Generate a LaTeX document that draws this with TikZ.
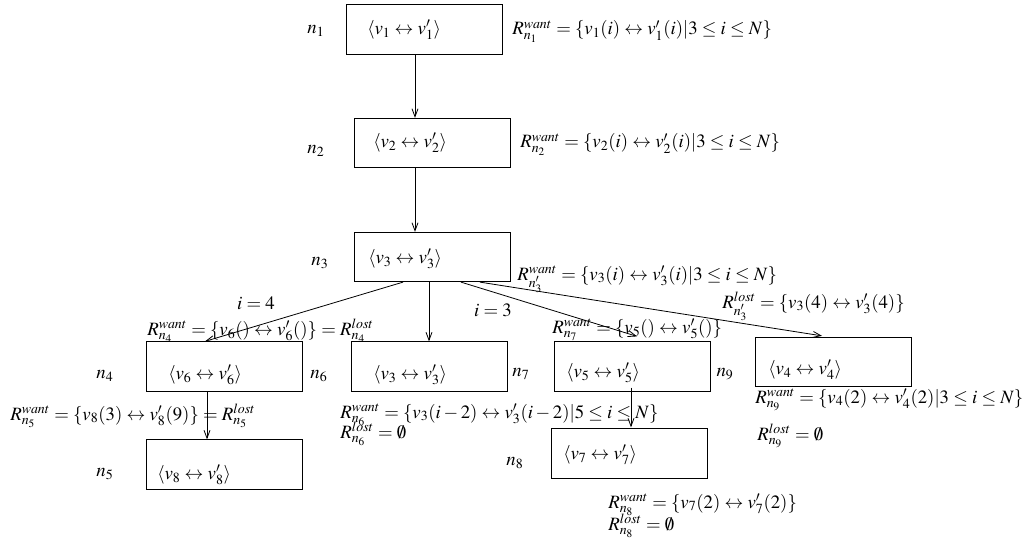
\documentclass[tikz,border=0pt]{standalone}
\usepackage{mathptmx}
\usetikzlibrary{arrows.meta,calc}
\tikzset{
  box/.style={draw, line width=0.7pt, rectangle, minimum width=117pt, minimum height=37pt, inner sep=0pt},
  inner/.style={anchor=west, inner sep=0pt},
  lbl/.style={inner sep=0pt},
  rel/.style={anchor=base west, inner sep=0pt},
  arr/.style={line width=0.6pt, -{Straight Barb[length=6pt,width=4.5pt,line width=0.6pt]}}
}
\begin{document}
\begin{tikzpicture}[x=0.75pt,y=-0.75pt,font=\fontsize{14.1}{17}\selectfont]
\useasboundingbox (0,0) rectangle (1023,538);
% boxes
\node[box] (b1) at (424.5,29.5) {};
\node[box] (b2) at (432,143) {};
\node[box] (b3) at (432,257) {};
\node[box] (b4) at (224,366.5) {};
\node[box] (b5) at (224,464.5) {};
\node[box] (b6) at (429,366.5) {};
\node[box] (b7) at (632.5,366.5) {};
\node[box] (b8) at (629,453.5) {};
\node[box] (b9) at (833,362) {};
% inner texts
\node[inner] (t1) at (367,30) {$\langle v_1 \leftrightarrow v'_1\rangle$};
\node[inner] (t2) at (373,143) {$\langle v_2 \leftrightarrow v'_2\rangle$};
\node[inner] (t3) at (368,259) {$\langle v_3 \leftrightarrow v'_3\rangle$};
\node[inner] (t4) at (168,375) {$\langle v_6 \leftrightarrow v'_6\rangle$};
\node[inner] (t5) at (157,475) {$\langle v_8 \leftrightarrow v'_8\rangle$};
\node[inner] (t6) at (373,375) {$\langle v_3 \leftrightarrow v'_3\rangle$};
\node[inner] (t7) at (566,373) {$\langle v_5 \leftrightarrow v'_5\rangle$};
\node[inner] (t8) at (563,455) {$\langle v_7 \leftrightarrow v'_7\rangle$};
\node[inner] (t9) at (768,370) {$\langle v_4 \leftrightarrow v'_4\rangle$};
% node names
\node[lbl] (l1) at (316,31) {$n_1$};
\node[lbl] (l2) at (316,151) {$n_2$};
\node[lbl] (l3) at (320,263) {$n_3$};
\node[lbl] (l4) at (105,376) {$n_4$};
\node[lbl] (l5) at (105,474) {$n_5$};
\node[lbl] (l6) at (319,376) {$n_6$};
\node[lbl] (l7) at (521,374) {$n_7$};
\node[lbl] (l8) at (515,463) {$n_8$};
\node[lbl] (l9) at (725,374) {$n_9$};
% connectors
\draw[arr] ($(b1.south)+(-9.5,0)$) -- ($(b2.north)+(-17,0)$);
\draw[arr] ($(b2.south)+(-17,0)$) -- ($(b3.north)+(-17,0)$);
\draw[arr] ($(b3.south)+(-29,0)$) -- ($(b4.north)+(-19,0)$);
\draw[arr] (b3.south -| b6.north) -- (b6.north);
\draw[arr] ($(b3.south)+(29,0)$) -- ($(b7.north)+(4.5,-5)$);
\draw[arr] ($(b3.south)+(48,0)$) -- ($(b9.north)+(-11,-1)$);
\draw[arr] ($(b4.south)+(-17,0)$) -- ($(b5.north)+(-17,0)$);
\draw[arr] ($(b7.south)+(-1.5,-4)$) -- ($(b8.north)+(2,-1)$);
% relation labels (base line positions)
\node[rel] (r1) at (512,35) {$R^{want}_{n_1} = \{v_1(i) \leftrightarrow v'_1(i) | 3 \leq i \leq N\}$};
\node[rel] (r2) at (520,148) {$R^{want}_{n_2} = \{v_2(i) \leftrightarrow v'_2(i) | 3 \leq i \leq N\}$};
\node[rel] (r3w) at (517,280) {$R^{want}_{n'_3} = \{v_3(i) \leftrightarrow v'_3(i) | 3 \leq i \leq N\}$};
\node[rel] (r3l) at (722,308) {$R^{lost}_{n'_3} = \{v_3(4) \leftrightarrow v'_3(4)\}$};
\node[lbl] (i4) at (256,303) {$i = 4$};
\node[lbl] (i3) at (493,310) {$i = 3$};
\node[rel] (r4) at (147,335) {$R^{want}_{n_4} = \{v_6() \leftrightarrow v'_6()\} = R^{lost}_{n_4}$};
\node[rel] (r7) at (552,333) {$R^{want}_{n_7} = \{v_5() \leftrightarrow v'_5()\}$};
\node[rel] (r5) at (10,420) {$R^{want}_{n_5} = \{v_8(3) \leftrightarrow v'_8(9)\} = R^{lost}_{n_5}$};
\node[rel] (r6w) at (340,418) {$R^{want}_{n_6} = \{v_3(i-2) \leftrightarrow v'_3(i-2) | 5 \leq i \leq N\}$};
\node[rel] (r6l) at (340,438) {$R^{lost}_{n_6} = \emptyset$};
\node[rel] (r9w) at (755,403) {$R^{want}_{n_9} = \{v_4(2) \leftrightarrow v'_4(2) | 3 \leq i \leq N\}$};
\node[rel] (r9l) at (757,440) {$R^{lost}_{n_9} = \emptyset$};
\node[rel] (r8w) at (608,508) {$R^{want}_{n_8} = \{v_7(2) \leftrightarrow v'_7(2)\}$};
\node[rel] (r8l) at (608,530) {$R^{lost}_{n_8} = \emptyset$};
\end{tikzpicture}
\end{document}
